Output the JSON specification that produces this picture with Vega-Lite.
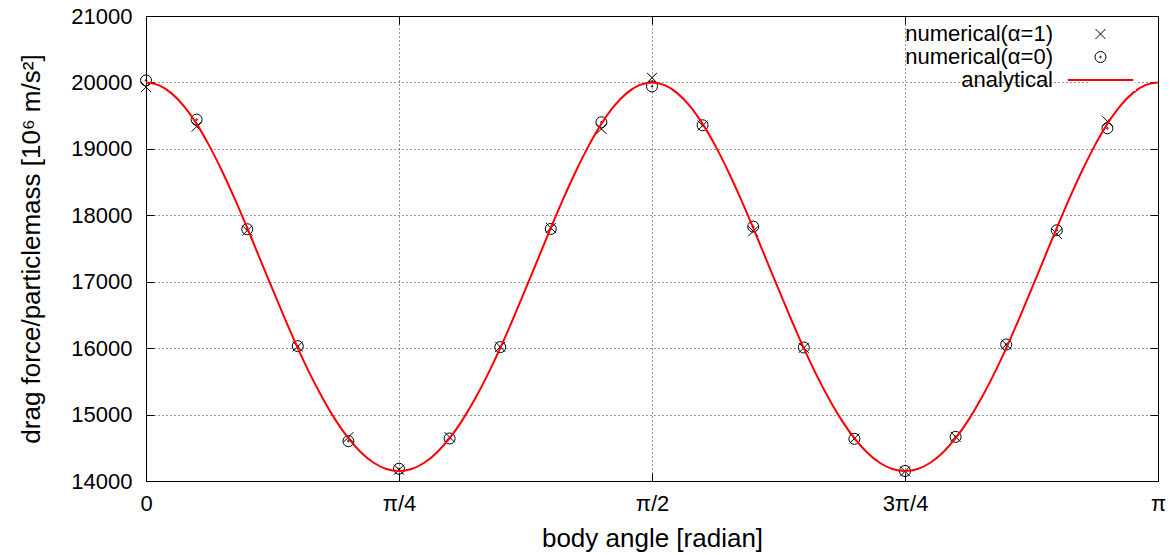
{
  "$schema": "https://vega.github.io/schema/vega-lite/v6.json",
  "width": 1012,
  "height": 465,
  "autosize": {"type": "none"},
  "padding": {"left": 146, "top": 16, "right": 17, "bottom": 74},
  "background": "white",
  "config": {
    "font": "Liberation Sans",
    "view": {"stroke": "black", "strokeWidth": 1},
    "axis": {
      "domain": false,
      "labelFont": "Liberation Sans",
      "labelFontSize": 22,
      "labelColor": "black",
      "titleFont": "Liberation Sans",
      "titleFontSize": 26,
      "titleFontWeight": "normal",
      "titleColor": "black",
      "tickColor": "black",
      "tickSize": -8,
      "gridColor": "black",
      "gridDash": [1, 3],
      "gridOpacity": 0.8
    }
  },
  "datasets": {
    "points": [
      {"angle": 0, "force": 19930, "series": "numerical(α=1)"},
      {"angle": 0.1571, "force": 19335, "series": "numerical(α=1)"},
      {"angle": 0.3142, "force": 17770, "series": "numerical(α=1)"},
      {"angle": 0.4712, "force": 16025, "series": "numerical(α=1)"},
      {"angle": 0.6283, "force": 14660, "series": "numerical(α=1)"},
      {"angle": 0.7854, "force": 14170, "series": "numerical(α=1)"},
      {"angle": 0.9425, "force": 14660, "series": "numerical(α=1)"},
      {"angle": 1.0996, "force": 16020, "series": "numerical(α=1)"},
      {"angle": 1.2566, "force": 17810, "series": "numerical(α=1)"},
      {"angle": 1.4137, "force": 19300, "series": "numerical(α=1)"},
      {"angle": 1.5708, "force": 20070, "series": "numerical(α=1)"},
      {"angle": 1.7279, "force": 19350, "series": "numerical(α=1)"},
      {"angle": 1.885, "force": 17760, "series": "numerical(α=1)"},
      {"angle": 2.042, "force": 16005, "series": "numerical(α=1)"},
      {"angle": 2.1991, "force": 14640, "series": "numerical(α=1)"},
      {"angle": 2.3562, "force": 14145, "series": "numerical(α=1)"},
      {"angle": 2.5133, "force": 14665, "series": "numerical(α=1)"},
      {"angle": 2.6704, "force": 16055, "series": "numerical(α=1)"},
      {"angle": 2.8274, "force": 17720, "series": "numerical(α=1)"},
      {"angle": 2.9845, "force": 19415, "series": "numerical(α=1)"},
      {"angle": 0, "force": 20030, "series": "numerical(α=0)"},
      {"angle": 0.1571, "force": 19440, "series": "numerical(α=0)"},
      {"angle": 0.3142, "force": 17790, "series": "numerical(α=0)"},
      {"angle": 0.4712, "force": 16030, "series": "numerical(α=0)"},
      {"angle": 0.6283, "force": 14600, "series": "numerical(α=0)"},
      {"angle": 0.7854, "force": 14185, "series": "numerical(α=0)"},
      {"angle": 0.9425, "force": 14640, "series": "numerical(α=0)"},
      {"angle": 1.0996, "force": 16015, "series": "numerical(α=0)"},
      {"angle": 1.2566, "force": 17795, "series": "numerical(α=0)"},
      {"angle": 1.4137, "force": 19400, "series": "numerical(α=0)"},
      {"angle": 1.5708, "force": 19940, "series": "numerical(α=0)"},
      {"angle": 1.7279, "force": 19355, "series": "numerical(α=0)"},
      {"angle": 1.885, "force": 17830, "series": "numerical(α=0)"},
      {"angle": 2.042, "force": 16010, "series": "numerical(α=0)"},
      {"angle": 2.1991, "force": 14635, "series": "numerical(α=0)"},
      {"angle": 2.3562, "force": 14150, "series": "numerical(α=0)"},
      {"angle": 2.5133, "force": 14665, "series": "numerical(α=0)"},
      {"angle": 2.6704, "force": 16055, "series": "numerical(α=0)"},
      {"angle": 2.8274, "force": 17775, "series": "numerical(α=0)"},
      {"angle": 2.9845, "force": 19310, "series": "numerical(α=0)"}
    ],
    "curve": [
      {"angle": 0, "force": 20000, "series": "analytical"},
      {"angle": 0.0393, "force": 19959, "series": "analytical"},
      {"angle": 0.0785, "force": 19839, "series": "analytical"},
      {"angle": 0.1178, "force": 19643, "series": "analytical"},
      {"angle": 0.1571, "force": 19376, "series": "analytical"},
      {"angle": 0.1963, "force": 19049, "series": "analytical"},
      {"angle": 0.2356, "force": 18671, "series": "analytical"},
      {"angle": 0.2749, "force": 18254, "series": "analytical"},
      {"angle": 0.3142, "force": 17809, "series": "analytical"},
      {"angle": 0.3534, "force": 17349, "series": "analytical"},
      {"angle": 0.3927, "force": 16887, "series": "analytical"},
      {"angle": 0.432, "force": 16434, "series": "analytical"},
      {"angle": 0.4712, "force": 16001, "series": "analytical"},
      {"angle": 0.5105, "force": 15598, "series": "analytical"},
      {"angle": 0.5498, "force": 15233, "series": "analytical"},
      {"angle": 0.589, "force": 14913, "series": "analytical"},
      {"angle": 0.6283, "force": 14644, "series": "analytical"},
      {"angle": 0.6676, "force": 14430, "series": "analytical"},
      {"angle": 0.7069, "force": 14275, "series": "analytical"},
      {"angle": 0.7461, "force": 14181, "series": "analytical"},
      {"angle": 0.7854, "force": 14150, "series": "analytical"},
      {"angle": 0.8247, "force": 14181, "series": "analytical"},
      {"angle": 0.8639, "force": 14275, "series": "analytical"},
      {"angle": 0.9032, "force": 14430, "series": "analytical"},
      {"angle": 0.9425, "force": 14644, "series": "analytical"},
      {"angle": 0.9817, "force": 14913, "series": "analytical"},
      {"angle": 1.021, "force": 15233, "series": "analytical"},
      {"angle": 1.0603, "force": 15598, "series": "analytical"},
      {"angle": 1.0996, "force": 16001, "series": "analytical"},
      {"angle": 1.1388, "force": 16434, "series": "analytical"},
      {"angle": 1.1781, "force": 16887, "series": "analytical"},
      {"angle": 1.2174, "force": 17349, "series": "analytical"},
      {"angle": 1.2566, "force": 17809, "series": "analytical"},
      {"angle": 1.2959, "force": 18254, "series": "analytical"},
      {"angle": 1.3352, "force": 18671, "series": "analytical"},
      {"angle": 1.3744, "force": 19049, "series": "analytical"},
      {"angle": 1.4137, "force": 19376, "series": "analytical"},
      {"angle": 1.453, "force": 19643, "series": "analytical"},
      {"angle": 1.4923, "force": 19839, "series": "analytical"},
      {"angle": 1.5315, "force": 19959, "series": "analytical"},
      {"angle": 1.5708, "force": 20000, "series": "analytical"},
      {"angle": 1.6101, "force": 19959, "series": "analytical"},
      {"angle": 1.6493, "force": 19839, "series": "analytical"},
      {"angle": 1.6886, "force": 19643, "series": "analytical"},
      {"angle": 1.7279, "force": 19376, "series": "analytical"},
      {"angle": 1.7671, "force": 19049, "series": "analytical"},
      {"angle": 1.8064, "force": 18671, "series": "analytical"},
      {"angle": 1.8457, "force": 18254, "series": "analytical"},
      {"angle": 1.885, "force": 17809, "series": "analytical"},
      {"angle": 1.9242, "force": 17349, "series": "analytical"},
      {"angle": 1.9635, "force": 16887, "series": "analytical"},
      {"angle": 2.0028, "force": 16434, "series": "analytical"},
      {"angle": 2.042, "force": 16001, "series": "analytical"},
      {"angle": 2.0813, "force": 15598, "series": "analytical"},
      {"angle": 2.1206, "force": 15233, "series": "analytical"},
      {"angle": 2.1598, "force": 14913, "series": "analytical"},
      {"angle": 2.1991, "force": 14644, "series": "analytical"},
      {"angle": 2.2384, "force": 14430, "series": "analytical"},
      {"angle": 2.2777, "force": 14275, "series": "analytical"},
      {"angle": 2.3169, "force": 14181, "series": "analytical"},
      {"angle": 2.3562, "force": 14150, "series": "analytical"},
      {"angle": 2.3955, "force": 14181, "series": "analytical"},
      {"angle": 2.4347, "force": 14275, "series": "analytical"},
      {"angle": 2.474, "force": 14430, "series": "analytical"},
      {"angle": 2.5133, "force": 14644, "series": "analytical"},
      {"angle": 2.5525, "force": 14913, "series": "analytical"},
      {"angle": 2.5918, "force": 15233, "series": "analytical"},
      {"angle": 2.6311, "force": 15598, "series": "analytical"},
      {"angle": 2.6704, "force": 16001, "series": "analytical"},
      {"angle": 2.7096, "force": 16434, "series": "analytical"},
      {"angle": 2.7489, "force": 16887, "series": "analytical"},
      {"angle": 2.7882, "force": 17349, "series": "analytical"},
      {"angle": 2.8274, "force": 17809, "series": "analytical"},
      {"angle": 2.8667, "force": 18254, "series": "analytical"},
      {"angle": 2.906, "force": 18671, "series": "analytical"},
      {"angle": 2.9452, "force": 19049, "series": "analytical"},
      {"angle": 2.9845, "force": 19376, "series": "analytical"},
      {"angle": 3.0238, "force": 19643, "series": "analytical"},
      {"angle": 3.0631, "force": 19839, "series": "analytical"},
      {"angle": 3.1023, "force": 19959, "series": "analytical"},
      {"angle": 3.1416, "force": 20000, "series": "analytical"}
    ]
  },
  "layer": [
    {
      "data": {"name": "points"},
      "mark": {"type": "point", "filled": false, "size": 400, "strokeWidth": 1, "opacity": 1},
      "encoding": {
        "x": {
          "field": "angle", "type": "quantitative",
          "scale": {"domain": [0, 3.1416], "nice": false, "zero": false},
          "axis": {
            "orient": "bottom", "grid": true,
            "values": [0, 0.7854, 1.5708, 2.3562, 3.1416],
            "labelExpr": "datum.value < 0.1 ? '0' : datum.value < 1 ? 'π/4' : datum.value < 2 ? 'π/2' : datum.value < 3 ? '3π/4' : 'π'",
            "labelFlush": false,
            "labelPadding": 20,
            "title": "body angle [radian]",
            "titlePadding": 11
          }
        },
        "y": {
          "field": "force", "type": "quantitative",
          "scale": {"domain": [14000, 21000], "nice": false, "zero": false},
          "axis": {
            "orient": "left", "grid": true,
            "values": [14000, 15000, 16000, 17000, 18000, 19000, 20000, 21000],
            "format": "d",
            "labelFlush": false,
            "labelPadding": 22,
            "title": "drag force/particlemass [10⁶ m/s²]",
            "titlePadding": 26
          }
        },
        "color": {
          "field": "series", "type": "nominal",
          "scale": {"domain": ["numerical(α=1)", "numerical(α=0)", "analytical"], "range": ["black", "black", "red"]},
          "legend": {
            "title": null,
            "orient": "none",
            "legendX": 943.5,
            "legendY": 7,
            "labelAlign": "right",
            "labelOffset": -58.5,
            "labelFont": "Liberation Sans",
            "labelFontSize": 22,
            "labelColor": "black",
            "labelLimit": 400,
            "symbolSize": 400,
            "symbolStrokeWidth": 1,
            "symbolOpacity": 1,
            "rowPadding": 1,
            "padding": 0,
            "fillColor": "white"
          }
        },
        "shape": {
          "field": "series", "type": "nominal",
          "scale": {
            "domain": ["numerical(α=1)", "numerical(α=0)", "analytical"],
            "range": [
              "M-0.5,-0.5L0.5,0.5M-0.5,0.5L0.5,-0.5",
              "M0.55,0A0.55,0.55 0 1,1 -0.55,0A0.55,0.55 0 1,1 0.55,0ZM0.08,0A0.08,0.08 0 1,1 -0.08,0A0.08,0.08 0 1,1 0.08,0Z",
              "M-3.25,-0.05L3.25,-0.05L3.25,0.05L-3.25,0.05Z"
            ]
          }
        }
      }
    },
    {
      "data": {"name": "curve"},
      "mark": {"type": "line", "strokeWidth": 2, "interpolate": "monotone"},
      "encoding": {
        "x": {
          "field": "angle", "type": "quantitative",
          "axis": {"orient": "top", "labels": false, "grid": false, "title": null, "values": [0, 0.7854, 1.5708, 2.3562, 3.1416]}
        },
        "y": {
          "field": "force", "type": "quantitative",
          "axis": {"orient": "right", "labels": false, "grid": false, "title": null, "values": [14000, 15000, 16000, 17000, 18000, 19000, 20000, 21000]}
        },
        "color": {"field": "series", "type": "nominal"}
      }
    }
  ],
  "resolve": {"axis": {"x": "independent", "y": "independent"}}
}
